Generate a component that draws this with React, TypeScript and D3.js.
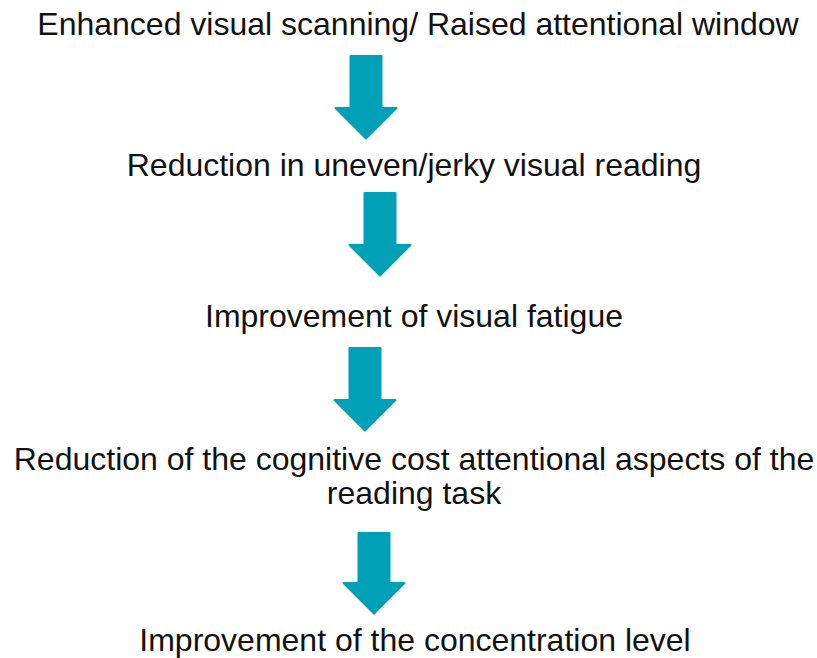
import React, { useRef, useEffect } from "react";
import * as d3 from "d3";

// flowchart steps (each entry = lines of one box)
const steps: string[][] = [
  ["Enhanced visual scanning/ Raised attentional window"],
  ["Reduction in uneven/jerky visual reading"],
  ["Improvement of visual fatigue"],
  ["Reduction of the cognitive cost attentional aspects of the", "reading task"],
  ["Improvement of the concentration level"],
];

// layout (pixels)
const textCenters = [418, 414, 414, 414, 415];
const firstBaselines = [35, 176, 327, 470, 651];
const arrowCenters = [366, 380, 365, 374];
const arrowTops = [55, 192, 347, 532];
const arrowTips = [140, 277, 432, 615];

const W = 817;
const H = 658;
const FONT = 32;
const LINE_H = 34;
const TEAL = "#00A0B6";

const App: React.FC = () => {
  const svgRef = useRef<SVGSVGElement | null>(null);

  useEffect(() => {
    if (!svgRef.current) return;
    const svg = d3.select(svgRef.current);
    svg.selectAll("*").remove();

    // labels
    steps.forEach((lines, i) => {
      const t = svg
        .append("text")
        .attr("text-anchor", "middle")
        .attr("font-family", "'Liberation Sans', Arial, Helvetica, sans-serif")
        .attr("font-size", FONT)
        .attr("fill", "#111");
      lines.forEach((ln, j) => {
        t.append("tspan")
          .attr("x", textCenters[i])
          .attr("y", firstBaselines[i] + j * LINE_H)
          .text(ln);
      });
    });

    // down arrows
    const shaftW = 33;
    const headW = 64;
    const headH = 33;
    arrowCenters.forEach((cx, i) => {
      const top = arrowTops[i];
      const tip = arrowTips[i];
      const headTop = tip - headH;
      const inset = 1;
      const p = d3.path();
      p.moveTo(cx - shaftW / 2 + inset, top + inset);
      p.lineTo(cx + shaftW / 2 - inset, top + inset);
      p.lineTo(cx + shaftW / 2 - inset, headTop + inset);
      p.lineTo(cx + headW / 2 - inset * 1.5, headTop + inset);
      p.lineTo(cx, tip - inset * 1.5);
      p.lineTo(cx - headW / 2 + inset * 1.5, headTop + inset);
      p.lineTo(cx - shaftW / 2 + inset, headTop + inset);
      p.closePath();
      svg
        .append("path")
        .attr("d", p.toString())
        .attr("fill", TEAL)
        .attr("stroke", TEAL)
        .attr("stroke-width", 2)
        .attr("stroke-linejoin", "round");
    });
  }, []);

  return (
    <svg
      ref={svgRef}
      width={W}
      height={H}
      style={{ position: "absolute", left: 0, top: 0, background: "#fff" }}
    />
  );
};

export default App;
